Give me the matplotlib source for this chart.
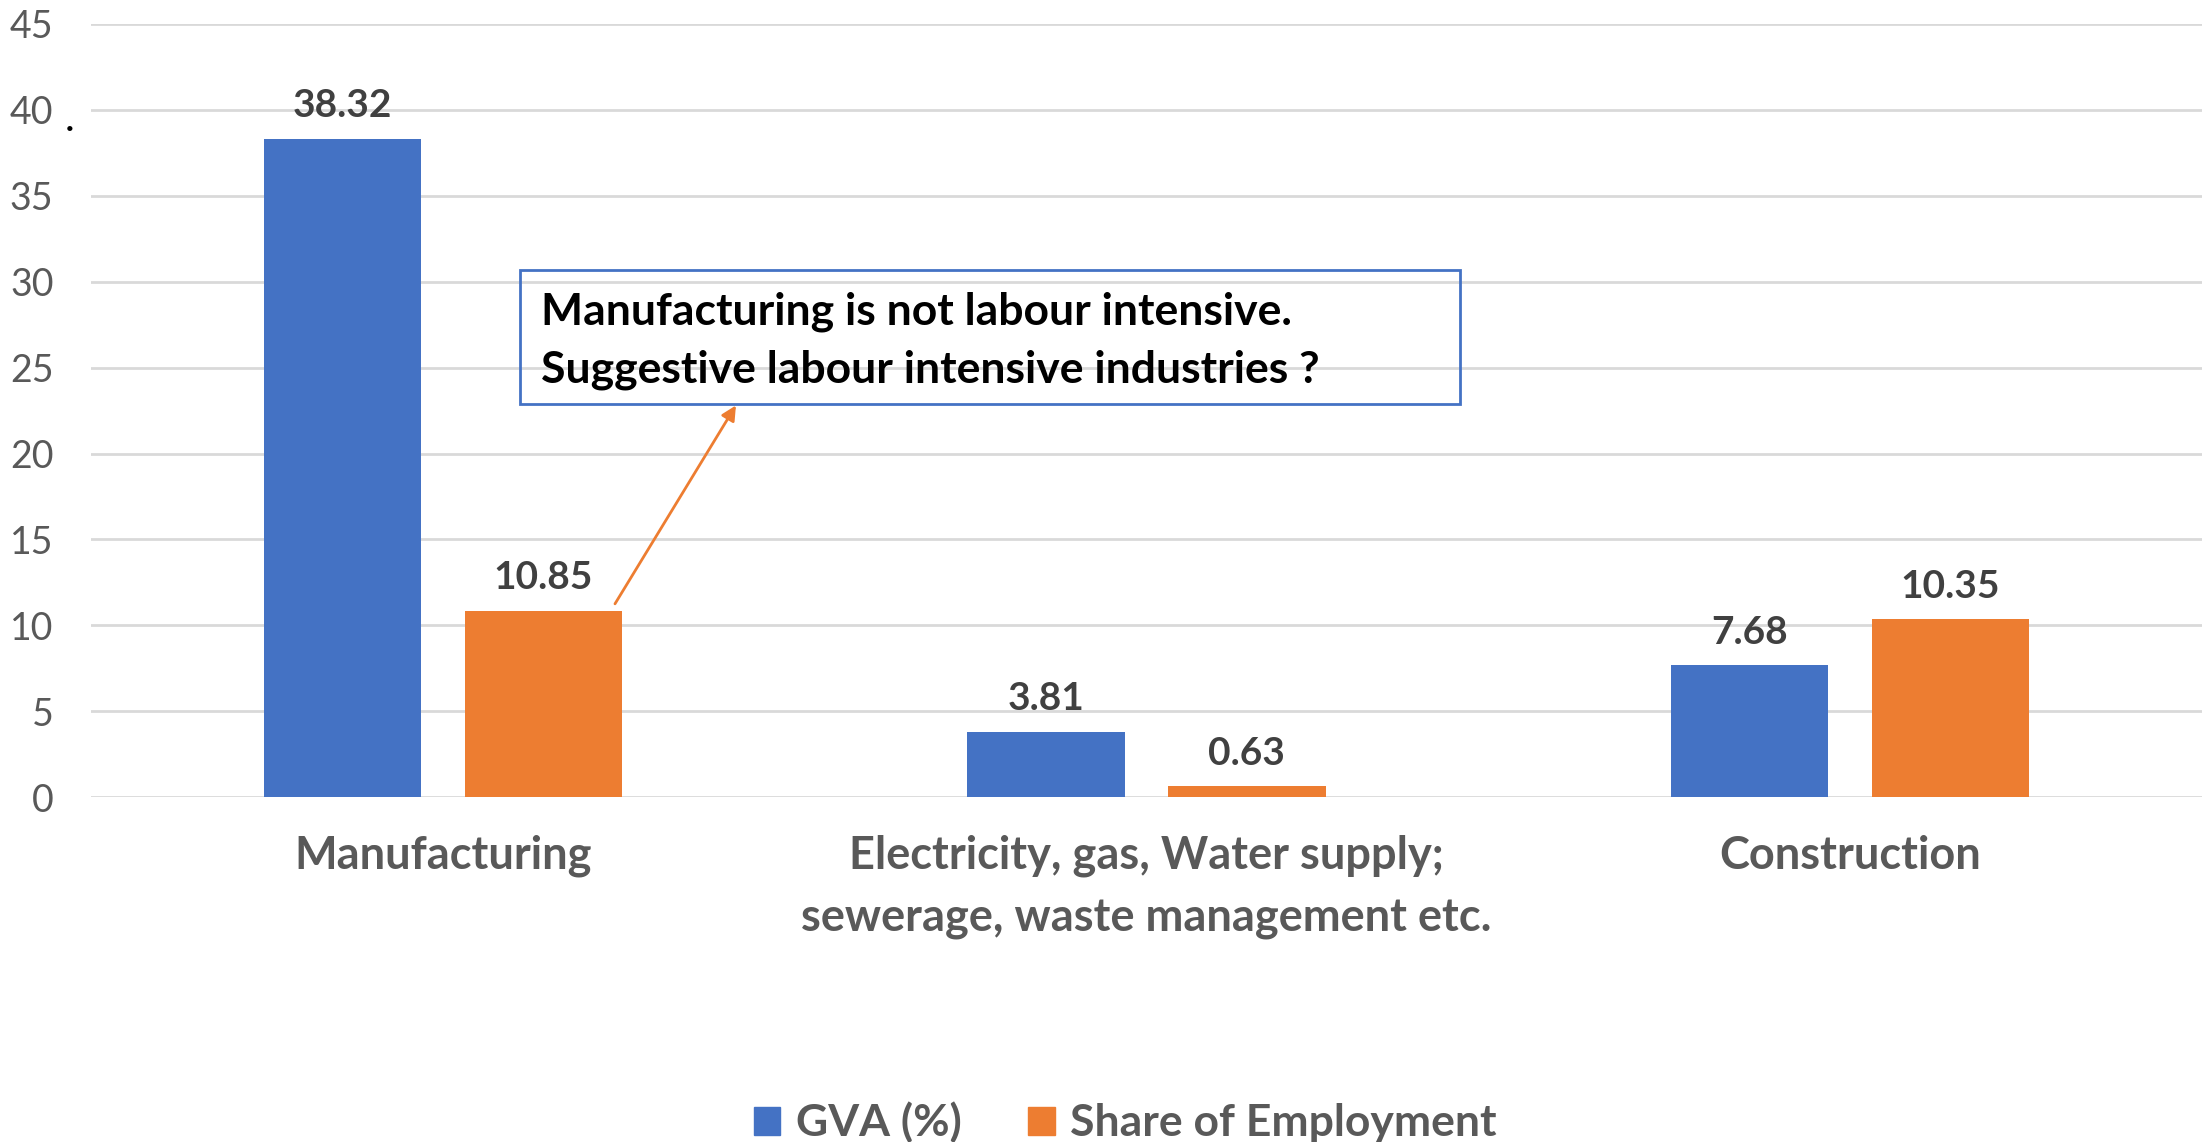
import matplotlib
matplotlib.use("Agg")
import matplotlib.pyplot as plt
import numpy as np
from matplotlib.patches import Patch, Rectangle

plt.rcParams['font.family'] = ['Lato', 'DejaVu Sans']

# datos
categorias = ['Manufacturing',
              'Electricity, gas, Water supply;\nsewerage, waste management etc.',
              'Construction']
gva        = [38.32, 3.81, 7.68]
empleo     = [10.85, 0.63, 10.35]
series     = ['GVA (%)', 'Share of Employment']
y_ticks    = [0, 5, 10, 15, 20, 25, 30, 35, 40, 45]
nota       = ['Manufacturing is not labour intensive.',
              'Suggestive labour intensive industries ?']

azul    = '#4472C4'
naranja = '#ED7D31'
gris    = '#595959'

fig = plt.figure(figsize=(22.02, 11.42), dpi=100)
ax = fig.add_axes([0.0413, 0.302, 0.9587, 0.677])

x = np.arange(len(categorias))
ancho = 0.2236
off = 0.1427

b1 = ax.bar(x - off, gva, ancho, color=azul, zorder=3)
b2 = ax.bar(x + off, empleo, ancho, color=naranja, zorder=3)

# etiquetas de valores
for barras, vals in ((b1, gva), (b2, empleo)):
    for r, v in zip(barras, vals):
        ax.annotate(f'{v:.2f}', xy=(r.get_x() + r.get_width()/2, v),
                    xytext=(0, 11), textcoords='offset points',
                    ha='center', va='bottom', fontsize=28,
                    fontweight='bold', color='#404040')

ax.set_xlim(-0.5, len(categorias) - 0.5)
ax.set_ylim(0, 45)
ax.set_yticks(y_ticks)
ax.set_yticklabels([str(t) for t in y_ticks])
ax.set_xticks(x)
ax.set_xticklabels(categorias)
for t in ax.get_xticklabels():
    t.set_linespacing(1.6)
    t.set_fontweight('bold')
    t.set_fontsize(32.5)
    t.set_color(gris)
ax.tick_params(axis='y', length=0, pad=27, labelsize=27, labelcolor=gris)
ax.tick_params(axis='x', length=0, pad=27)
ax.grid(axis='y', color='#D9D9D9', linewidth=2, zorder=0)
ax.set_axisbelow(True)
for s in ax.spines.values():
    s.set_visible(False)

# caja de comentario
caja = Rectangle((0.1097, 22.88), 1.3358, 7.8, fill=False,
                 edgecolor=azul, linewidth=2, zorder=5, clip_on=False)
ax.add_patch(caja)
ax.text(0.1395, 27.53, nota[0], fontsize=32, fontweight='bold',
        color='black', va='baseline', zorder=6)
ax.text(0.1395, 24.16, nota[1], fontsize=32, fontweight='bold',
        color='black', va='baseline', zorder=6)
ax.annotate('', xy=(0.4166, 22.8), xytext=(x[0] + off + 0.102, empleo[0] + 0.4),
            arrowprops=dict(arrowstyle='-|>', color=naranja, lw=2,
                            mutation_scale=22, shrinkA=0, shrinkB=0),
            zorder=6)

# punto suelto
fig.text(0.0315, 0.885, '.', fontsize=30, color='black', ha='center')

# leyenda
handles = [Patch(color=azul), Patch(color=naranja)]
leg = fig.legend(handles, series, loc='center', bbox_to_anchor=(0.511, 0.017),
                 ncol=2, frameon=False, fontsize=32, handlelength=0.6,
                 handleheight=0.6, handletextpad=0.35, columnspacing=1.5)
for t in leg.get_texts():
    t.set_color(gris)
    t.set_fontweight('bold')

fig.savefig('out.png', dpi=100)
